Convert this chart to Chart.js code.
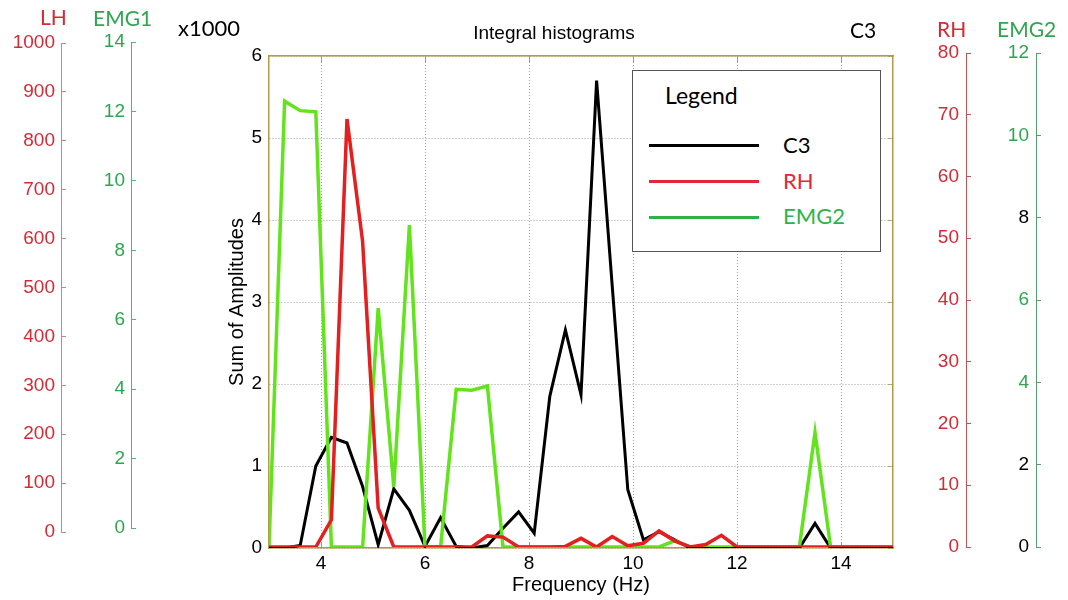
<!DOCTYPE html>
<html>
<head>
<meta charset="utf-8">
<title>Integral histograms</title>
<script src="https://cdn.jsdelivr.net/npm/chart.js@4.4.1/dist/chart.umd.min.js"></script>
<style>
  body { margin: 0; background: #fff; }
  #wrap { position: relative; width: 1068px; height: 600px; }
  #chart { position: absolute; left: 0; top: 0; }
  .tag { position: absolute; font-family: Lato, "Open Sans", sans-serif; font-size: 21px; line-height: 24px; white-space: nowrap; }
  .red { color: #d42a35; }
  .green { color: #2ea650; }
  #title { position: absolute; left: 460px; width: 188px; top: 22px; text-align: center;
           font-family: "Liberation Sans", Arial, sans-serif; font-size: 19px; line-height: 22px; }
  #legend { position: absolute; left: 632px; top: 70px; width: 247px; height: 180px; border: 1px solid #555; background: #fff; }
  #legend .head { position: absolute; left: 32px; top: 10px; font-family: Lato, sans-serif; font-size: 23px; }
  #legend .swatch { position: absolute; left: 16px; width: 110px; height: 3px; }
  #legend .name { position: absolute; left: 150px; font-family: Lato, sans-serif; font-size: 22px; line-height: 24px; }
</style>
</head>
<body>
<div id="wrap">
  <canvas id="chart" width="1068" height="600"></canvas>
  <div class="tag red" style="left:40px;top:5px">LH</div>
  <div class="tag green" style="left:93px;top:6px">EMG1</div>
  <div class="tag" style="left:178px;top:16px;font-size:22px">x1000</div>
  <div id="title">Integral histograms</div>
  <div class="tag" style="left:850px;top:18px">C3</div>
  <div class="tag red" style="left:937px;top:17px">RH</div>
  <div class="tag green" style="left:997px;top:17px">EMG2</div>
  <div id="legend">
    <div class="head">Legend</div>
    <div class="swatch" style="top:73px;background:#000"></div>
    <div class="name" style="top:62px;color:#000">C3</div>
    <div class="swatch" style="top:109px;background:#e0283a"></div>
    <div class="name" style="top:98px;color:#e0283a">RH</div>
    <div class="swatch" style="top:145px;background:#2db34a"></div>
    <div class="name" style="top:133px;color:#2db34a">EMG2</div>
  </div>
</div>
<script>
// Frequency bins (Hz)
const freqHz = [3.0, 3.3, 3.6, 3.9, 4.2, 4.5, 4.8, 5.1, 5.4, 5.7, 6.0, 6.3, 6.6, 6.9,
  7.2, 7.5, 7.8, 8.1, 8.4, 8.7, 9.0, 9.3, 9.6, 9.9, 10.2, 10.5, 10.8, 11.1, 11.4,
  11.7, 12.0, 12.3, 12.6, 12.9, 13.2, 13.5, 13.8, 14.1, 14.4, 14.7, 15.0];

// C3 sum of amplitudes (x1000)
const c3Sum = [0, 0, 0.03, 1.0, 1.35, 1.28, 0.75, 0.04, 0.72, 0.46, 0.02, 0.37, 0.02, 0,
  0.03, 0.24, 0.44, 0.18, 1.85, 2.66, 1.87, 5.7, 3.2, 0.71, 0.1, 0.2, 0.1, 0, 0,
  0, 0, 0, 0, 0, 0, 0.3, 0, 0, 0, 0, 0];

// RH on its own right-hand scale (0-80)
const rhSum = [0, 0, 0, 0, 4.4, 69.3, 49.5, 6.3, 0, 0, 0, 0, 0, 0,
  1.8, 1.6, 0, 0, 0, 0.1, 1.4, 0, 1.7, 0.2, 0.6, 2.6, 1.0, 0, 0.4,
  1.9, 0, 0, 0, 0, 0, 0, 0, 0, 0, 0, 0];

// EMG2 on its own right-hand scale (0-12)
const emg2Sum = [0, 10.83, 10.6, 10.57, 0, 0, 0, 5.8, 1.46, 7.82, 0, 0, 3.83, 3.81,
  3.91, 0, 0, 0, 0, 0, 0, 0, 0, 0, 0, 0, 0.15, 0, 0,
  0, 0, 0, 0, 0, 0, 2.78, 0, 0, 0, 0, 0];

const freqTicks = [4, 6, 8, 10, 12, 14];

const OLIVE = '#b09c48';
const GRID = '#a0a0a0';
const RED_TXT = '#d42a35';
const GREEN_TXT = '#2ea650';

Chart.defaults.font.family = '"Liberation Sans", Arial, sans-serif';
Chart.defaults.color = '#000';

// side axes sit a bit higher/lower than the plot frame
const sideAxisSpans = {
  yLH: [43, 532],
  yEMG1: [42, 528],
  yRH: [53, 547],
  yEMG2: [53, 547]
};

const sideAxesPlugin = {
  id: 'sideAxes',
  afterLayout(chart) {
    Object.entries(sideAxisSpans).forEach(([id, span]) => {
      const s = chart.scales[id];
      s.top = span[0];
      s.bottom = span[1];
      s.height = span[1] - span[0];
      s.configure();
    });
  }
};

function toPoints(values) {
  return freqHz.map((f, i) => ({ x: f, y: values[i] }));
}

function useFreqTicks(scale) {
  scale.ticks = freqTicks.map(v => ({ value: v }));
}

const plainNumber = v => String(v);

const lineStyle = { borderWidth: 3.5, pointRadius: 0, tension: 0, borderJoinStyle: 'miter', fill: false };

new Chart(document.getElementById('chart'), {
  type: 'line',
  data: {
    datasets: [
      { label: 'RH', data: toPoints(rhSum), yAxisID: 'yRH', borderColor: '#e3201f', order: 0, ...lineStyle },
      { label: 'EMG2', data: toPoints(emg2Sum), yAxisID: 'yEMG2', borderColor: '#62e41c', order: 1, ...lineStyle },
      { label: 'C3', data: toPoints(c3Sum), yAxisID: 'y', borderColor: '#000000', order: 2, ...lineStyle, borderWidth: 3 }
    ]
  },
  options: {
    responsive: false,
    animation: false,
    devicePixelRatio: 1,
    layout: { padding: { top: 56, left: 0, right: 0, bottom: 0 } },
    plugins: { legend: { display: false }, tooltip: { enabled: false }, title: { display: false } },
    scales: {
      x: {
        type: 'linear', position: 'bottom', min: 3, max: 15,
        afterBuildTicks: useFreqTicks,
        grid: { color: GRID, tickColor: OLIVE, tickLength: -6 },
        border: { color: OLIVE, width: 1.5, dash: [1, 2] },
        ticks: { font: { size: 19 }, padding: 10 },
        title: { display: true, text: 'Frequency (Hz)', font: { size: 20 }, padding: { top: 0, bottom: 3 } },
        afterFit: s => { s.height = 52; }
      },
      xTop: {
        type: 'linear', position: 'top', min: 3, max: 15,
        afterBuildTicks: useFreqTicks,
        ticks: { display: false },
        grid: { drawOnChartArea: false, tickLength: -6, tickColor: OLIVE },
        border: { color: OLIVE, width: 1.5 },
        afterFit: s => { s.height = 0; }
      },
      y: {
        position: 'left', min: 0, max: 6, weight: 0,
        ticks: { stepSize: 1, font: { size: 19 }, padding: 7 },
        grid: { color: GRID, drawTicks: false },
        border: { color: OLIVE, width: 1.5, dash: [1, 2] },
        title: { display: true, text: 'Sum of Amplitudes', font: { size: 20 }, padding: { top: 94 } },
        afterFit: s => { s.width = 138; }
      },
      yEMG1: {
        position: 'left', min: 0, max: 14, weight: 1,
        ticks: { stepSize: 2, color: GREEN_TXT, font: { size: 19 }, padding: 11, callback: plainNumber },
        grid: { drawOnChartArea: false, tickLength: -5, color: '#4cb878' },
        border: { color: '#4cb878' },
        afterFit: s => { s.width = 70; }
      },
      yLH: {
        position: 'left', min: 0, max: 1000, weight: 2,
        ticks: { stepSize: 100, color: RED_TXT, font: { size: 19 }, padding: 11, callback: plainNumber },
        grid: { drawOnChartArea: false, tickLength: -5, color: '#c08a8a' },
        border: { color: '#c08a8a' },
        afterFit: s => { s.width = 61; }
      },
      yR: {
        position: 'right', min: 0, max: 6, weight: 0,
        ticks: { display: false, stepSize: 1 },
        grid: { drawOnChartArea: false, tickLength: -5, tickColor: '#8cc060' },
        border: { color: OLIVE, width: 1.5 },
        afterFit: s => { s.width = 73; }
      },
      yRH: {
        position: 'right', min: 0, max: 80, weight: 1,
        ticks: { stepSize: 10, color: RED_TXT, font: { size: 19 }, mirror: true, padding: -7 },
        grid: { drawOnChartArea: false, tickLength: 5, color: '#c05358' },
        border: { color: '#c05358' },
        afterFit: s => { s.width = 70; }
      },
      yEMG2: {
        position: 'right', min: 0, max: 12, weight: 2,
        ticks: {
          stepSize: 2, font: { size: 19 }, mirror: true, padding: -7,
          color: c => [8, 2, 0].includes(c.tick.value) ? '#000' : GREEN_TXT
        },
        grid: { drawOnChartArea: false, tickLength: 5, color: '#5a9e6f' },
        border: { color: '#5a9e6f' },
        afterFit: s => { s.width = 32; }
      }
    }
  },
  plugins: [sideAxesPlugin]
});
</script>
</body>
</html>
